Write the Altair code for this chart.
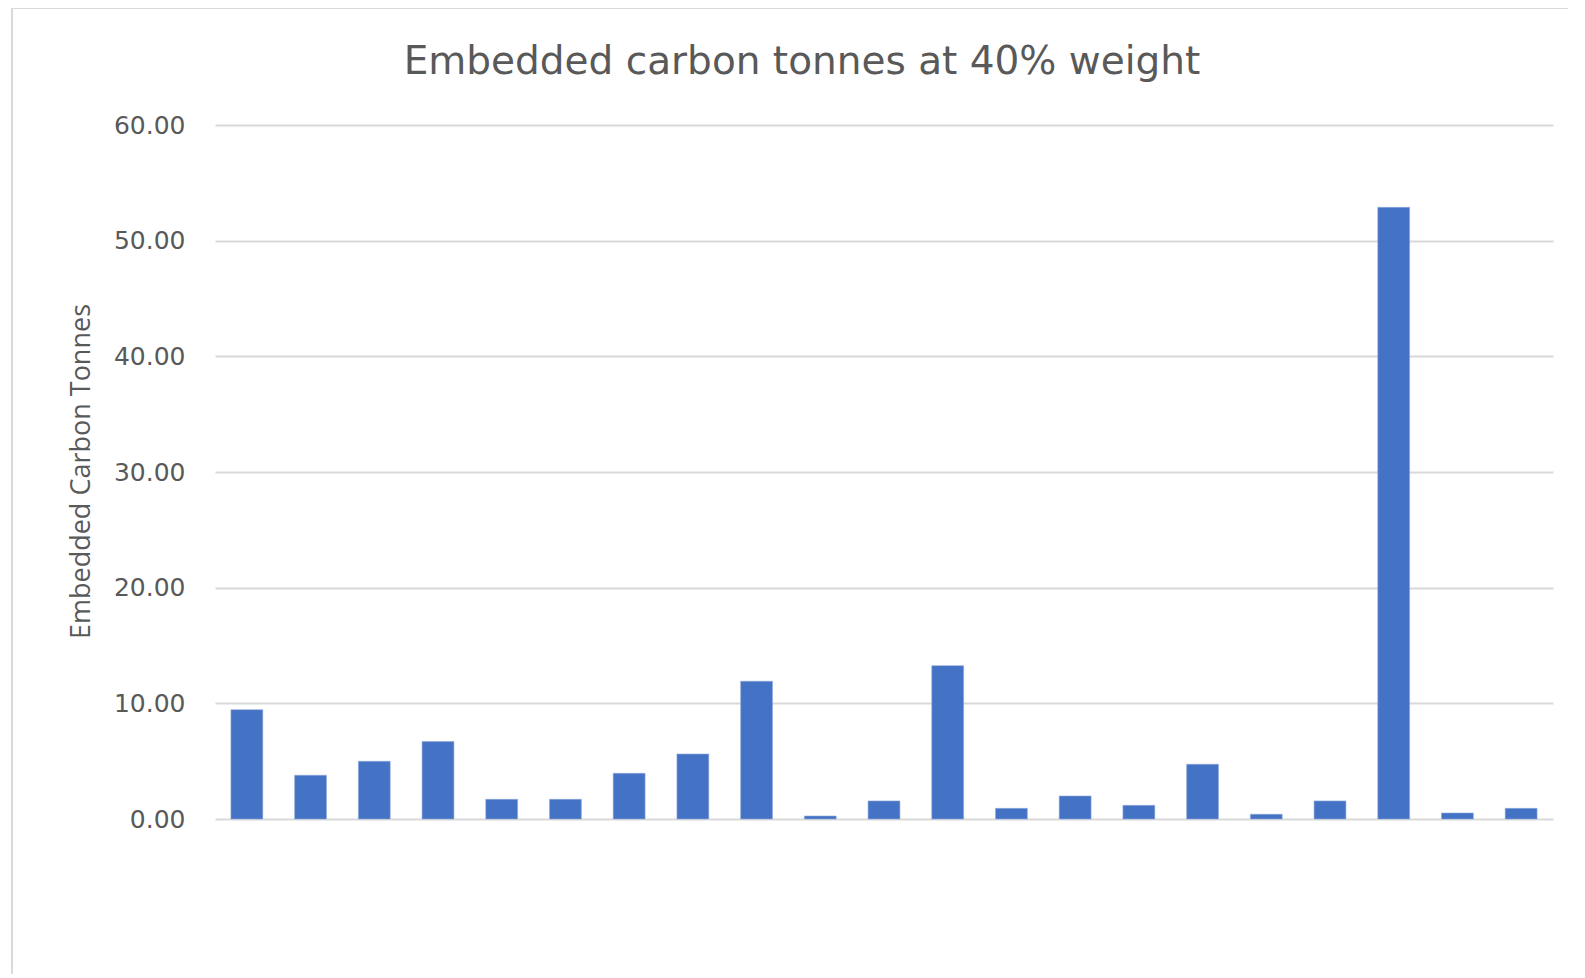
import altair as alt
import pandas as pd

categories = [f"Item {i}" for i in range(1, 22)]
values = [9.45, 3.78, 4.99, 6.69, 1.70, 1.70, 3.95, 5.62, 11.91, 0.26, 1.56,
          13.26, 0.92, 1.99, 1.18, 4.73, 0.41, 1.56, 52.88, 0.52, 0.92]

df = pd.DataFrame({"category": categories, "value": values})

W, H = 1338, 694
GREY = "#595959"

bars = alt.Chart(df).mark_bar(color="#4472C4", stroke="#8fa9dc", strokeWidth=0.6).encode(
    x=alt.X("category:N", sort=categories,
            scale=alt.Scale(paddingInner=0.5, paddingOuter=0.25),
            axis=alt.Axis(labels=False, ticks=False, domain=False, title=None, grid=False)),
    y=alt.Y("value:Q", scale=alt.Scale(domain=[0, 60], nice=False),
            axis=alt.Axis(values=[0, 10, 20, 30, 40, 50, 60], format=".2f",
                          grid=True, gridColor="#d9d9d9", gridWidth=2,
                          domain=False, ticks=False,
                          labelFont="DejaVu Sans", labelFontSize=25, labelColor=GREY, labelPadding=30,
                          title="Embedded Carbon Tonnes", titleFont="Open Sans", titleFontSize=27,
                          titleFontWeight="normal", titleColor=GREY,
                          titleX=-134, titleY=346, titleAngle=-90,
                          titleAlign="center", titleBaseline="middle")),
)

frame = alt.Chart(df).mark_rect(fill=None, stroke="#d9d9d9", strokeWidth=2, clip=False).encode(
    x=alt.value(-203), x2=alt.value(1400), y=alt.value(-117), y2=alt.value(900)
)

chart = alt.layer(frame, bars).properties(
    width=W, height=H,
    background="white",
    title=alt.TitleParams("Embedded carbon tonnes at 40% weight", font="DejaVu Sans", fontSize=39,
                          fontWeight="normal", color=GREY, anchor="middle",
                          baseline="alphabetic", offset=-106, dx=-82),
    autosize=alt.AutoSizeParams(type="none"),
    padding={"left": 207, "top": 117, "right": 15, "bottom": 155},
).configure_view(stroke=None)

chart.save("out.html", embed_options={"renderer": "svg", "actions": False})
